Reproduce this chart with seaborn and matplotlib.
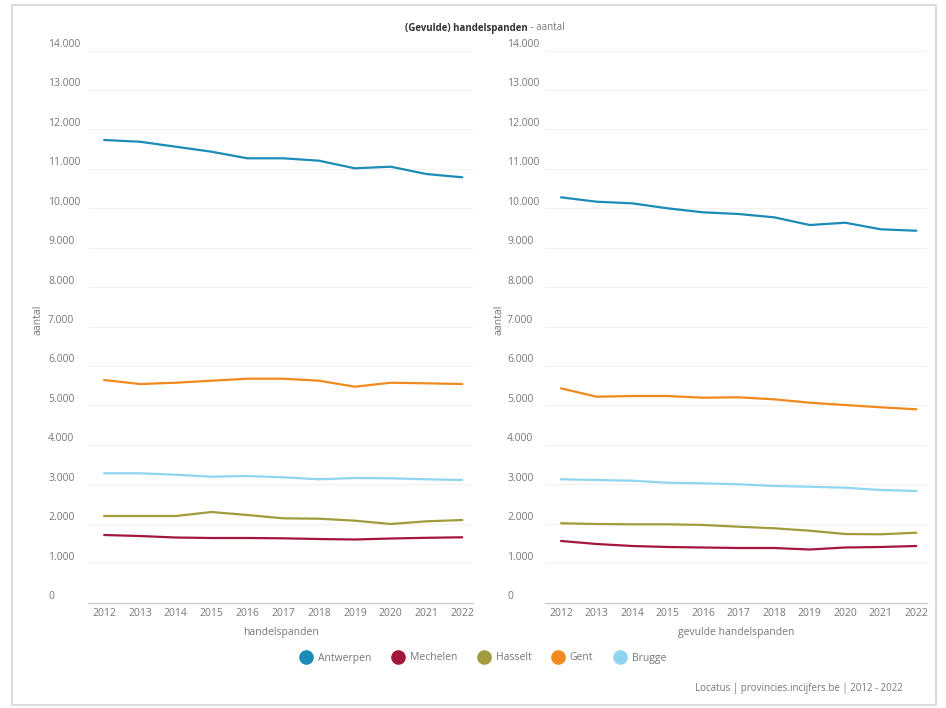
import matplotlib
matplotlib.use("Agg")
import matplotlib.pyplot as plt
import matplotlib.transforms as mtrans
from matplotlib.lines import Line2D
from matplotlib.patches import Rectangle
import seaborn as sns
import pandas as pd

jaren = list(range(2012, 2023))
gemeenten = ["Antwerpen", "Mechelen", "Hasselt", "Gent", "Brugge"]
kleuren = ["#1b8cb6", "#a3173d", "#a19b3e", "#f08a1e", "#8fd5ef"]

# handelspanden (links)
handelspanden = {
    "Antwerpen": [11730, 11686, 11560, 11433, 11266, 11266, 11205, 11012, 11053, 10867, 10784],
    "Mechelen": [1712, 1686, 1648, 1636, 1636, 1628, 1610, 1598, 1623, 1641, 1654],
    "Hasselt": [2194, 2194, 2194, 2295, 2219, 2135, 2125, 2075, 1991, 2059, 2092],
    "Gent": [5643, 5541, 5574, 5625, 5676, 5676, 5625, 5473, 5574, 5559, 5541],
    "Brugge": [3277, 3277, 3241, 3190, 3208, 3175, 3125, 3157, 3150, 3125, 3107],
}
# gevulde handelspanden (rechts)
gevulde = {
    "Antwerpen": [10276, 10165, 10124, 9997, 9896, 9853, 9769, 9574, 9632, 9465, 9429],
    "Mechelen": [1560, 1484, 1433, 1408, 1395, 1382, 1382, 1344, 1395, 1408, 1433],
    "Hasselt": [2009, 1991, 1983, 1983, 1966, 1922, 1882, 1821, 1737, 1730, 1770],
    "Gent": [5432, 5219, 5237, 5237, 5194, 5204, 5153, 5067, 5009, 4950, 4900],
    "Brugge": [3125, 3107, 3089, 3038, 3023, 2998, 2955, 2937, 2911, 2853, 2828],
}

yticks = list(range(0, 14001, 1000))
ytick_labels = ["0" if v == 0 else f"{v // 1000}.000" for v in yticks]


def to_frame(d):
    rows = []
    for g in gemeenten:
        for j, v in zip(jaren, d[g]):
            rows.append({"jaar": j, "aantal": v, "gemeente": g})
    return pd.DataFrame(rows)


sns.set_style("white")
plt.rcParams["font.family"] = ["Open Sans", "DejaVu Sans"]
grey = "#777777"

fig = plt.figure(figsize=(9.46, 7.08), dpi=100)
W, H = 946, 708

# card border
fig.patches.append(Rectangle((12 / W, 3 / H), 924 / W, 700 / H, transform=fig.transFigure,
                             fill=False, edgecolor="#dcdcdc", linewidth=1.5))

# data, x label, axes left/right px, tick label start px, y label centre px
panels = [
    (handelspanden, "handelspanden", 88, 473, 48, 37),
    (gevulde, "gevulde handelspanden", 545, 927, 507, 499),
]
bottom_px, top_px = 602.5, 50.5
palette = dict(zip(gemeenten, kleuren))

for data, xlabel, x0, x1, lab_x, ylab_x in panels:
    ax = fig.add_axes([x0 / W, (H - bottom_px) / H, (x1 - x0) / W, (bottom_px - top_px) / H])
    sns.lineplot(data=to_frame(data), x="jaar", y="aantal", hue="gemeente",
                 palette=palette, linewidth=1.6, legend=False, ax=ax)
    ax.set_ylim(0, 14000)
    ax.set_xlim(2012 - 0.45, 2022 + 0.3)
    ax.set_xticks(jaren)
    ax.set_xticklabels([str(j) for j in jaren], fontsize=7.5, color=grey)
    ax.set_yticks(yticks)
    ax.set_yticklabels(ytick_labels, fontsize=7.5, color=grey)
    ax.grid(axis="y", color="#f2f2f2", linewidth=0.8)
    ax.tick_params(axis="both", length=0)
    ax.tick_params(axis="x", pad=4)
    ax.tick_params(axis="y", pad=(x0 - lab_x) * 0.72)
    offset = mtrans.ScaledTranslation(0, 7.5 / 100, fig.dpi_scale_trans)
    for lab in ax.get_yticklabels():
        lab.set_horizontalalignment("left")
        lab.set_transform(lab.get_transform() + offset)
    for s in ["top", "right", "left"]:
        ax.spines[s].set_visible(False)
    ax.spines["bottom"].set_color("#cccccc")
    ax.spines["bottom"].set_linewidth(1)
    ax.set_xlabel(xlabel, fontsize=7.5, color=grey, labelpad=6)
    ax.set_ylabel("aantal", fontsize=7.5, color=grey)
    ax.yaxis.set_label_coords((ylab_x + 6 - x0) / (x1 - x0), 0.512)

# title
fig.text(528 / W, 1 - 28 / H, "(Gevulde) handelspanden", fontsize=7, fontweight="bold",
         color="#333333", ha="right", va="center")
fig.text(528 / W, 1 - 28 / H, " - aantal", fontsize=7, color=grey, ha="left", va="center")

handles = [Line2D([], [], marker="o", linestyle="", markersize=9.5, color=c) for c in kleuren]
fig.legend(handles, gemeenten, loc="center", bbox_to_anchor=(481 / W, 1 - 658 / H), ncol=5,
           frameon=False, fontsize=7.5, labelcolor=grey, handletextpad=0.1, columnspacing=1.6)

fig.text(903 / W, 1 - 688 / H, "Locatus | provincies.incijfers.be | 2012 - 2022", fontsize=7,
         color=grey, ha="right", va="center")

fig.savefig("out.png", dpi=100, facecolor="white")
